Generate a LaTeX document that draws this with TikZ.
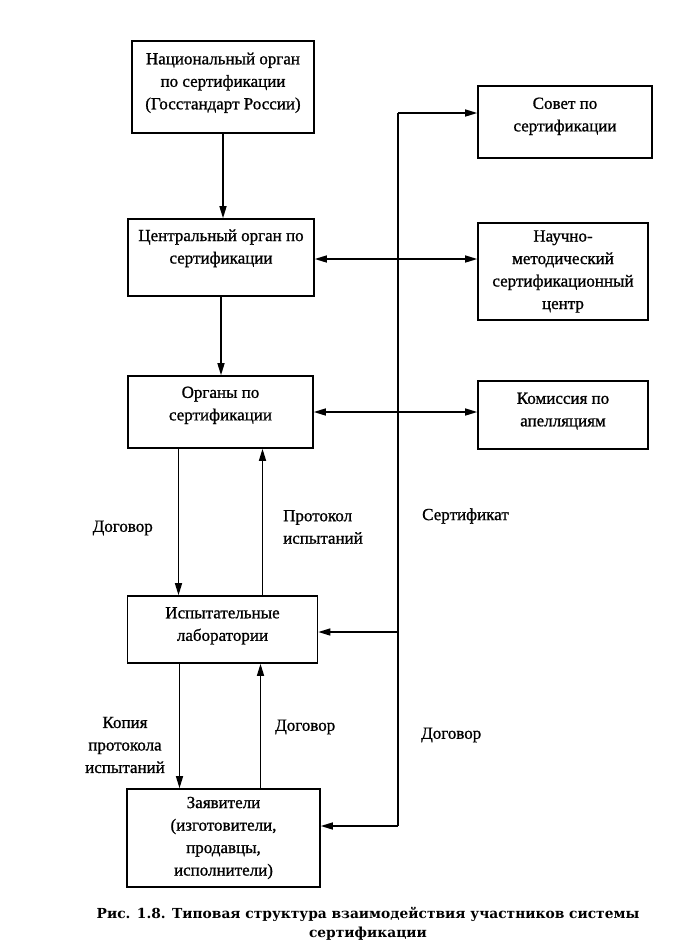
\documentclass[tikz,border=0pt]{standalone}
\usepackage{fontspec}
\setmainfont{Liberation Serif}[FakeBold=1.0]
\newfontfamily\capfont{DejaVu Serif}
\usetikzlibrary{arrows.meta, positioning}

\begin{document}
\begin{tikzpicture}[
  x=1pt, y=-1pt,
  >={Triangle[length=12pt,width=7pt]},
  box/.style={draw, line width=1.6pt, align=center, inner sep=2pt,
    font=\fontsize{17}{22.5}\selectfont},
  lift/.style={text depth=#1},
  link/.style={line width=1.4pt},
  bus/.style={line width=1.8pt},
  lbl/.style={font=\fontsize{17}{22.5}\selectfont, inner sep=0pt}
]
\useasboundingbox (0,0) rectangle (699,943);

% Left column
\node[box, minimum width=182pt, minimum height=92pt, lift=12pt] (nat) at (223,87)
  {Национальный орган\\по сертификации\\(Госстандарт России)};
\node[box, minimum width=186pt, minimum height=77pt, lift=22pt] (central) at (221,257.5)
  {Центральный орган по\\сертификации};
\node[box, minimum width=185pt, minimum height=72pt, lift=17pt] (organy) at (220.5,412)
  {Органы по\\сертификации};
\node[box, minimum width=190pt, minimum height=67pt, lift=11pt] (lab) at (222.5,629.5)
  {Испытательные\\лаборатории};
\node[box, minimum width=193pt, minimum height=98pt] (zayav) at (223.5,838)
  {Заявители\\(изготовители,\\продавцы,\\исполнители)};

% Right column
\node[box, minimum width=174pt, minimum height=72pt, lift=15pt] (sovet) at (565,122)
  {Совет по\\сертификации};
\node[box, minimum width=170pt, minimum height=97pt] (nauch) at (563,271.5)
  {Научно-\\методический\\сертификационный\\центр};
\node[box, minimum width=170pt, minimum height=68pt, lift=11pt] (komis) at (563,415)
  {Комиссия по\\апелляциям};

% Bus line
\coordinate (bustop) at (398,113);
\coordinate (busbot) at (398,826);
\draw[bus] (bustop) -- (busbot);
\draw[link,->] (bustop) -- (bustop -| sovet.west);
\draw[link,->] ([yshift=-2.5pt]lab.east -| bustop) -- ([yshift=-2.5pt]lab.east);
\draw[link,->] (busbot) -- (busbot -| zayav.east);

% Arrows
\draw[link,->] (nat.south) -- (nat.south |- central.north);
\draw[link,->] (central.south) -- (central.south |- organy.north);
\draw[link,<->] ([yshift=-1.5pt]central.east) -- ([yshift=-1.5pt]central.east -| nauch.west);
\draw[link,<->] (organy.east) -- (organy.east -| komis.west);
\draw[link,->] ([xshift=-42pt]organy.south) -- ([xshift=-42pt]organy.south |- lab.north);
\draw[link,->] ([xshift=42pt]organy.south |- lab.north) -- ([xshift=42pt]organy.south);
\draw[link,->] ([xshift=-43pt]lab.south) -- ([xshift=-43pt]lab.south |- zayav.north);
\draw[link,->] ([xshift=38pt]lab.south |- zayav.north) -- ([xshift=38pt]lab.south);

% Labels
\node[lbl, anchor=east] (dogA) at (153,528) {Договор};
\node[lbl, anchor=west, align=left] (prot) at (283,527) {Протокол\\испытаний};
\node[lbl, anchor=west] (sert) at (422,516) {Сертификат};
\node[lbl, align=center] (kopia) at (125,745) {Копия\\протокола\\испытаний};
\node[lbl, anchor=west] (dogB) at (275,727) {Договор};
\node[lbl, anchor=west] (dogC) at (421,735) {Договор};

% Caption
\node[font=\capfont\bfseries\fontsize{13.8}{19}\selectfont, align=center,
  anchor=north, inner sep=0pt] (caption) at (368,907)
  {Рис. 1.8. Типовая структура взаимодействия участников системы\\сертификации};

\end{tikzpicture}
\end{document}
